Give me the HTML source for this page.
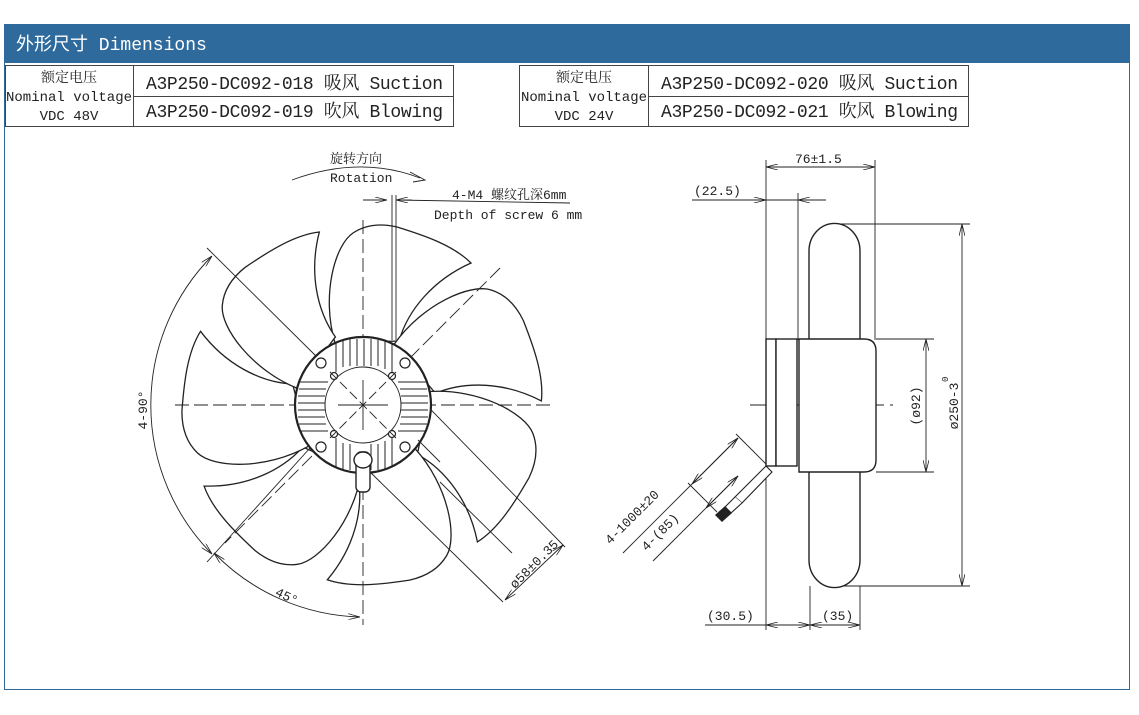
<!DOCTYPE html>
<html><head><meta charset="utf-8"><style>
html,body{margin:0;padding:0;background:#fff;}
body{width:1139px;height:715px;position:relative;overflow:hidden;font-family:"Liberation Serif","Noto Serif CJK SC",serif;}
</style></head><body>
<svg width="1139" height="715" viewBox="0 0 1139 715" xmlns="http://www.w3.org/2000/svg" style="position:absolute;left:0;top:0">
<defs>
<marker id="a" viewBox="0 0 12 6" refX="12" refY="3" markerWidth="12" markerHeight="6" orient="auto-start-reverse" markerUnits="userSpaceOnUse"><path d="M0,0 L12,3 L0,6" fill="none" stroke="#222" stroke-width="0.8"/></marker>
</defs>
<rect x="4.5" y="24.5" width="1125" height="665" fill="none" stroke="#2e6a9c" stroke-width="1"/>
<rect x="4" y="24" width="1126" height="39" fill="#2e6a9c"/>
<text x="16" y="50" fill="#fff" font-size="18" font-family="Liberation Mono,'Noto Sans CJK SC',monospace">外形尺寸 Dimensions</text>
<g stroke="#444" fill="none" stroke-width="1">
<rect x="5.5" y="65.5" width="448" height="61"/><line x1="133.5" y1="65" x2="133.5" y2="126"/><line x1="133" y1="96.5" x2="453" y2="96.5"/>
<rect x="519.5" y="65.5" width="449" height="61"/><line x1="648.5" y1="65" x2="648.5" y2="126"/><line x1="648" y1="96.5" x2="968" y2="96.5"/>
</g>
<g font-size="14" fill="#222" text-anchor="middle">
<text x="69" y="82" font-family="'Noto Serif CJK SC',serif">额定电压</text>
<text x="69" y="101" font-family="Liberation Mono,monospace">Nominal voltage</text>
<text x="69" y="120" font-family="Liberation Mono,monospace">VDC 48V</text>
<text x="584" y="82" font-family="'Noto Serif CJK SC',serif">额定电压</text>
<text x="584" y="101" font-family="Liberation Mono,monospace">Nominal voltage</text>
<text x="584" y="120" font-family="Liberation Mono,monospace">VDC 24V</text>
</g>
<g font-size="18" fill="#222" font-family="Liberation Mono,'Noto Serif CJK SC',monospace">
<text x="146" y="89" textLength="297">A3P250-DC092-018 吸风 Suction</text>
<text x="146" y="117" textLength="297">A3P250-DC092-019 吹风 Blowing</text>
<text x="661" y="89" textLength="297">A3P250-DC092-020 吸风 Suction</text>
<text x="661" y="117" textLength="297">A3P250-DC092-021 吹风 Blowing</text>
</g>

<!-- FRONT VIEW -->
<g transform="translate(363,405)" stroke="#222" stroke-width="1.3" fill="#fff">
<g id="bl"><path d="M-28,-62 C-42,-110 -28,-160 -10,-172 Q8,-184 34,-178 C60,-170 90,-160 108,-142 C70,-125 45,-95 36,-64 Z"/></g>
<use href="#bl" transform="rotate(51.43)"/><use href="#bl" transform="rotate(102.86)"/><use href="#bl" transform="rotate(154.29)"/><use href="#bl" transform="rotate(205.71)"/><use href="#bl" transform="rotate(257.14)"/><use href="#bl" transform="rotate(308.57)"/>
</g>
<g stroke="#222" fill="none" stroke-width="0.9">
<line x1="175" y1="405" x2="552" y2="405" stroke-dasharray="14,5"/>
<line x1="363" y1="220" x2="363" y2="625" stroke-dasharray="14,5"/>
<line x1="500" y1="268" x2="225" y2="543" stroke-dasharray="14,5"/>
<line x1="207" y1="248" x2="320" y2="360"/>
<line x1="207" y1="562" x2="310" y2="448"/>
<line x1="397" y1="375" x2="565" y2="547"/>
<line x1="368" y1="470" x2="503" y2="602"/>
<line x1="440" y1="482" x2="512" y2="553"/>
<path d="M212,256 A212,212 0 0 0 212,554" marker-start="url(#a)" marker-end="url(#a)"/>
<path d="M214,553 A212,212 0 0 0 360,617" marker-start="url(#a)" marker-end="url(#a)"/>
<line x1="563" y1="545" x2="505" y2="600" marker-start="url(#a)" marker-end="url(#a)"/>
<path d="M292,180 Q360,155 420,178"/><path d="M410,172 L425,180 L413,182"/>
<line x1="363" y1="200" x2="387" y2="200" marker-end="url(#a)"/>
<line x1="412" y1="200" x2="396" y2="200" marker-end="url(#a)"/>
<line x1="396" y1="200" x2="570" y2="203"/>
<line x1="392" y1="195" x2="392" y2="340"/><line x1="396" y1="195" x2="396" y2="340"/>
</g>
<g font-size="13" fill="#222" font-family="Liberation Mono,'Noto Serif CJK SC',monospace">
<text x="330" y="163">旋转方向</text>
<text x="330" y="182">Rotation</text>
<text x="452" y="199">4-M4 螺纹孔深6mm</text>
<text x="434" y="219">Depth of screw 6 mm</text>
<text transform="translate(147,410) rotate(-90)" text-anchor="middle">4-90°</text>
<text transform="translate(285,600) rotate(25)" text-anchor="middle">45°</text>
<text transform="translate(537,567) rotate(-45)" text-anchor="middle">ø58±0.35</text>
</g>
<!-- hub -->
<g stroke="#222" fill="#fff">
<circle cx="363" cy="405" r="68" stroke-width="2.2"/>
<g stroke-width="1" fill="none">
<path d="M336,343 V372 M343,341 V367 M350,339 V366 M357,339 V366 M364,339 V366 M371,339 V366 M378,340 V366 M385,341 V369 M392,343 V372"/>
<path d="M336,467 V438 M343,469 V443 M350,470 V444 M371,470 V444 M378,470 V444 M385,469 V441 M392,467 V438"/>
<path d="M300,382 H328 M299,389 H326 M298,396 H325 M298,403 H325 M298,410 H325 M298,417 H325 M299,424 H326 M300,431 H328"/>
<path d="M426,382 H398 M427,389 H400 M428,396 H401 M428,403 H401 M428,410 H401 M428,417 H401 M427,424 H400 M426,431 H398"/>
</g>
<circle cx="363" cy="405" r="38" stroke-width="1"/>
<g stroke-width="1.2"><circle cx="321" cy="363" r="5"/><circle cx="405" cy="363" r="5"/><circle cx="321" cy="447" r="5"/><circle cx="405" cy="447" r="5"/>
<circle cx="334" cy="376" r="3.5"/><circle cx="392" cy="376" r="3.5"/><circle cx="334" cy="434" r="3.5"/><circle cx="392" cy="434" r="3.5"/></g>
</g>
<g stroke="#222" fill="none" stroke-width="0.9">
<line x1="330" y1="372" x2="396" y2="438" stroke-dasharray="10,4"/>
<line x1="396" y1="372" x2="330" y2="438" stroke-dasharray="10,4"/>
<line x1="363" y1="380" x2="363" y2="430"/><line x1="338" y1="405" x2="388" y2="405"/>
<line x1="418" y1="440" x2="440" y2="462"/>
</g>
<g stroke="#222" fill="#fff">
<rect x="356" y="452" width="14" height="40" rx="5" stroke-width="1.4"/>
<ellipse cx="363" cy="460" rx="9" ry="8" stroke-width="1.4"/>
</g>

<!-- SIDE VIEW -->
<g stroke="#222" fill="none" stroke-width="0.9">
<line x1="766" y1="160" x2="766" y2="630"/>
<line x1="798" y1="193" x2="798" y2="340"/>
<line x1="875" y1="160" x2="875" y2="340"/>
<line x1="810" y1="586" x2="810" y2="630"/><line x1="860" y1="586" x2="860" y2="630"/>
<line x1="766" y1="167" x2="875" y2="167" marker-start="url(#a)" marker-end="url(#a)"/>
<line x1="692" y1="200" x2="766" y2="200" marker-end="url(#a)"/>
<line x1="826" y1="200" x2="798" y2="200" marker-end="url(#a)"/>
<line x1="766" y1="200" x2="798" y2="200"/>
<line x1="835" y1="224" x2="970" y2="224"/><line x1="835" y1="586" x2="970" y2="586"/>
<line x1="962" y1="224" x2="962" y2="586" marker-start="url(#a)" marker-end="url(#a)"/>
<line x1="876" y1="339" x2="934" y2="339"/><line x1="876" y1="472" x2="934" y2="472"/>
<line x1="926" y1="339" x2="926" y2="472" marker-start="url(#a)" marker-end="url(#a)"/>
<line x1="705" y1="625" x2="766" y2="625"/>
<line x1="766" y1="625" x2="810" y2="625" marker-start="url(#a)" marker-end="url(#a)"/>
<line x1="810" y1="625" x2="860" y2="625" marker-start="url(#a)" marker-end="url(#a)"/>
<line x1="750" y1="405" x2="893" y2="405" stroke-dasharray="22,6"/>
<line x1="736" y1="434" x2="766" y2="464"/>
<line x1="688" y1="483" x2="717" y2="512"/>
<line x1="738" y1="438" x2="623" y2="553"/>
<line x1="738" y1="438" x2="692" y2="484" marker-start="url(#a)" marker-end="url(#a)"/>
<line x1="738" y1="476" x2="653" y2="561"/>
<line x1="738" y1="476" x2="706" y2="508" marker-start="url(#a)" marker-end="url(#a)"/>
</g>
<g stroke="#222" fill="#fff" stroke-width="1.4">
<path d="M809,251 A25,27 0 0 1 860,251 V560 A25,27 0 0 1 809,560 Z"/>
<rect x="766" y="339" width="10" height="127"/>
<rect x="776" y="339" width="21" height="127"/>
<path d="M799,339 H864 Q876,339 876,351 V460 Q876,472 864,472 H799 Z"/>
<path d="M766,466 L735,497 L742,503 L772,472 Z" stroke-width="1.1"/>
<path d="M735,497 L725,507 L731,513 L742,503" stroke-width="1.1"/>
<path d="M725,507 L716,515 L722,521 L731,513 Z" fill="#222"/>
</g>
<g font-size="13" fill="#222" font-family="Liberation Mono,monospace">
<text x="795" y="163">76±1.5</text>
<text x="694" y="195">(22.5)</text>
<text x="707" y="620">(30.5)</text>
<text x="822" y="620">(35)</text>
<text transform="translate(920,406) rotate(-90)" text-anchor="middle">(ø92)</text>
<text transform="translate(958,406) rotate(-90)" text-anchor="middle">ø250-3</text>
<text transform="translate(948,382) rotate(-90)" font-size="9">0</text>
<text transform="translate(635,520) rotate(-45)" text-anchor="middle">4-1000±20</text>
<text transform="translate(663,535) rotate(-45)" text-anchor="middle">4-(85)</text>
</g>
</svg>
</body></html>
